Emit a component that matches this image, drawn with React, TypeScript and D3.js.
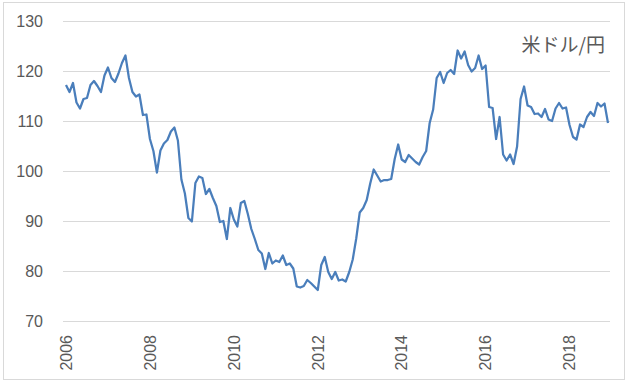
import React from 'react';
import * as d3 from 'd3';

// month-end USD/JPY, Jan 2006 .. Dec 2018
const years = [2006, 2007, 2008, 2009, 2010, 2011, 2012, 2013, 2014, 2015, 2016, 2017, 2018];
const rates2006 = [117.2, 115.8, 117.6, 113.7, 112.5, 114.4, 114.6, 117.2, 118.0, 117.0, 115.8, 119.1];
const rates2007 = [120.7, 118.6, 117.8, 119.5, 121.6, 123.1, 118.6, 115.8, 114.9, 115.3, 111.2, 111.3];
const rates2008 = [106.4, 104.0, 99.7, 104.1, 105.5, 106.2, 107.9, 108.7, 106.1, 98.3, 95.5, 90.6];
const rates2009 = [89.9, 97.6, 98.9, 98.6, 95.4, 96.4, 94.6, 93.0, 89.8, 90.0, 86.4, 92.6];
const rates2010 = [90.3, 88.9, 93.6, 94.0, 91.4, 88.4, 86.4, 84.2, 83.5, 80.4, 83.6, 81.5];
const rates2011 = [82.1, 81.8, 83.1, 81.2, 81.5, 80.5, 76.9, 76.7, 77.0, 78.2, 77.6, 76.9];
const rates2012 = [76.2, 81.2, 82.8, 79.8, 78.4, 79.8, 78.1, 78.3, 77.9, 79.8, 82.3, 86.5];
const rates2013 = [91.7, 92.6, 94.2, 97.5, 100.3, 99.1, 97.9, 98.2, 98.2, 98.4, 102.4, 105.3];
const rates2014 = [102.3, 101.8, 103.2, 102.5, 101.8, 101.3, 102.8, 104.0, 109.6, 112.3, 118.6, 119.8];
const rates2015 = [117.6, 119.6, 120.2, 119.4, 124.1, 122.5, 123.9, 121.2, 119.9, 120.6, 123.1, 120.4];
const rates2016 = [121.1, 112.8, 112.6, 106.4, 110.8, 103.3, 102.1, 103.3, 101.4, 104.9, 114.4, 116.9];
const rates2017 = [113.1, 112.8, 111.4, 111.5, 110.8, 112.4, 110.3, 110.0, 112.5, 113.6, 112.5, 112.7];
const rates2018 = [109.2, 106.8, 106.3, 109.3, 108.8, 110.8, 111.8, 111.0, 113.6, 112.9, 113.5, 109.6];

const yTicks = [70, 80, 90, 100, 110, 120, 130];
const xTickYears = [2006, 2008, 2010, 2012, 2014, 2016, 2018];
const title = '米ドル/円';

const rates = [
  ...rates2006, ...rates2007, ...rates2008, ...rates2009, ...rates2010,
  ...rates2011, ...rates2012, ...rates2013, ...rates2014, ...rates2015,
  ...rates2016, ...rates2017, ...rates2018,
];

const W = 632;
const H = 385;
const textColor = '#595959';
const font = '"Liberation Sans", Arial, sans-serif';

export default function App() {
  const x = d3.scaleLinear().domain([0, rates.length - 1]).range([66, 608]);
  const y = d3.scaleLinear().domain([70, 130]).range([321, 21]);

  const line = d3.line<number>()
    .x((_, i) => x(i))
    .y(d => y(d));

  return (
    <svg width={W} height={H} style={{ position: 'absolute', left: 0, top: 0 }}>
      <rect x={0} y={0} width={W} height={H} fill="#fff" />
      <rect x={3.5} y={2.5} width={621} height={377} fill="none" stroke="#d9d9d9" />

      {yTicks.map(t => (
        <g key={t}>
          <line x1={63} x2={610} y1={Math.round(y(t)) + 0.5} y2={Math.round(y(t)) + 0.5} stroke="#d9d9d9" />
          <text x={43} y={y(t)} dy="0.36em" textAnchor="end" fontFamily={font} fontSize={16} fill={textColor}>
            {t}
          </text>
        </g>
      ))}

      {xTickYears.map(yr => {
        const px = x((yr - years[0]) * 12);
        return (
          <text key={yr} transform={`translate(${px},335) rotate(-90)`} dy="0.36em" textAnchor="end"
            fontFamily={font} fontSize={16} fill={textColor}>
            {yr}
          </text>
        );
      })}

      <path d={line(rates) || ''} fill="none" stroke="#4a7ebb" strokeWidth={2.25} strokeLinejoin="round" />

      <text x={605} y={52} textAnchor="end" fontFamily='"Noto Sans CJK JP", sans-serif' fontSize={19} fill={textColor}>
        {title}
      </text>
    </svg>
  );
}
